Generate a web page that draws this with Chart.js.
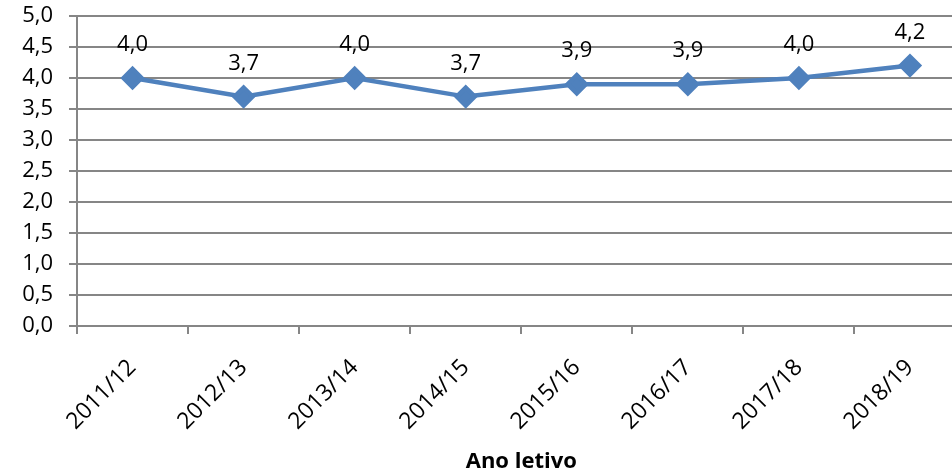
<!DOCTYPE html>
<html>
<head>
<meta charset="utf-8">
<script src="https://cdn.jsdelivr.net/npm/chart.js@4/dist/chart.umd.min.js"></script>
<style>
  html, body { margin: 0; padding: 0; background: #fff; overflow: hidden; }
  canvas { display: block; }
</style>
</head>
<body>
<canvas id="c" width="979" height="475"></canvas>
<script>
const categories = ["2011/12", "2012/13", "2013/14", "2014/15", "2015/16", "2016/17", "2017/18", "2018/19"];
const values = [4.0, 3.7, 4.0, 3.7, 3.9, 3.9, 4.0, 4.2];
const yMin = 0, yMax = 5, yStep = 0.5;
const xTitle = "Ano letivo";

const FONT = "'Open Sans', 'Liberation Sans', sans-serif";
const fmt = v => v.toFixed(1).replace('.', ',');

const labelPlugin = {
  id: 'dataLabels',
  afterDatasetsDraw(chart) {
    const ctx = chart.ctx;
    const meta = chart.getDatasetMeta(0);
    ctx.save();
    ctx.font = "22px " + FONT;
    ctx.fillStyle = '#000';
    ctx.textAlign = 'center';
    ctx.textBaseline = 'middle';
    meta.data.forEach((pt, i) => {
      ctx.fillText(fmt(values[i]), pt.x, pt.y - 33);
    });
    ctx.restore();
  }
};

new Chart(document.getElementById('c'), {
  type: 'line',
  data: {
    labels: categories,
    datasets: [{
      data: values,
      borderColor: '#4F81BD',
      backgroundColor: '#4F81BD',
      borderWidth: 4.5,
      pointStyle: 'rectRot',
      pointRadius: 9,
      pointHoverRadius: 9,
      pointBackgroundColor: '#4F81BD',
      pointBorderColor: '#4F81BD',
      tension: 0
    }]
  },
  options: {
    responsive: false,
    animation: false,
    events: [],
    layout: { padding: { top: 16, left: 0, right: 1, bottom: 0 } },
    plugins: { legend: { display: false }, tooltip: { enabled: false } },
    scales: {
      x: {
        offset: true,
        grid: { offset: true, drawOnChartArea: false, drawTicks: true, tickLength: 8, color: '#868686', lineWidth: 2 },
        border: { color: '#868686', width: 2 },
        ticks: { color: '#000', font: { family: FONT, size: 23 }, minRotation: 45, maxRotation: 45, padding: 20 },
        title: { display: true, text: xTitle, color: '#000', font: { family: FONT, size: 22, weight: 'bold' }, padding: { top: 10, bottom: 0 } },
        afterFit(scale) { scale.height = 149; scale.paddingLeft = 0; scale.paddingRight = 0; }
      },
      y: {
        min: yMin, max: yMax,
        grid: { color: '#868686', lineWidth: 2, tickLength: 8, drawTicks: true },
        border: { color: '#868686', width: 2 },
        ticks: { stepSize: yStep, color: '#000', font: { family: FONT, size: 22 }, padding: 16, callback: v => fmt(v) },
        afterFit(scale) { scale.width = 77; scale.paddingTop = 0; scale.paddingBottom = 0; }
      }
    }
  },
  plugins: [labelPlugin]
});
</script>
</body>
</html>
